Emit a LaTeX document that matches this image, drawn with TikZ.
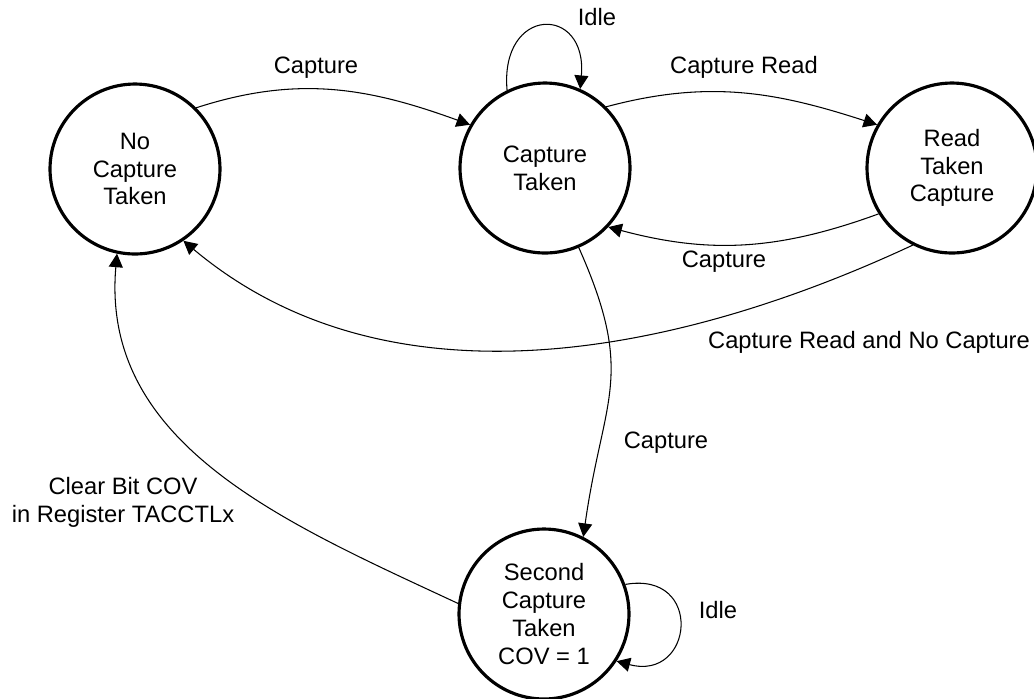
\documentclass[tikz,border=0pt]{standalone}
\usepackage{fontspec}
\setmainfont{Liberation Sans}
\usetikzlibrary{arrows.meta, positioning}

\begin{document}
\begin{tikzpicture}[
  x=0.02cm, y=-0.02cm,
  font=\fontsize{13.5}{15.8}\selectfont,
  state/.style={circle, draw, line width=1.8pt, minimum size=3.4cm, inner sep=0pt, align=center},
  lbl/.style={align=center},
  tr/.style={line width=0.6pt, -{Triangle[length=0.27cm, width=0.28cm]}}
]
\useasboundingbox (0,0) rectangle (1034,698);

\node[state] (nct) at (135,169) {No\\Capture\\Taken};
\node[state] (ct) at (545,168) {Capture\\Taken};
\node[state] (rtc) at (952,168) {Read\\Taken\\Capture};
\node[state] (sct) at (544,614) {Second\\Capture\\Taken\\COV = 1};

\node[lbl] (capA) at (316,68) {Capture};
\node[lbl] (idleA) at (597,17) {Idle};
\node[lbl] (capRead) at (744,67) {Capture Read};
\node[lbl] (capB) at (724,262) {Capture};
\node[lbl] (capReadNo) at (869,342) {Capture Read and No Capture};
\node[lbl] (capC) at (666,443) {Capture};
\node[lbl] (clearCov) at (123,502) {Clear Bit COV\\in Register TACCTLx};
\node[lbl] (idleB) at (718,610) {Idle};

\draw[tr] (nct.45) to[out=18, in=160] (ct.150);
\draw[tr] (ct.116) .. controls +(95:1.7cm) and +(85:1.7cm) .. (ct.66);
\draw[tr] (ct.45) to[out=15, in=162] (rtc.150);
\draw[tr] (rtc.212) to[out=200, in=-15] (ct.-43);
\draw[tr] (rtc.243) to[out=205, in=-40, looseness=0.93] (nct.-56);
\draw[tr] (ct.-67) to[out=-66, in=82, looseness=1.25] (sct.63);
\draw[tr] (sct.173) to[out=155, in=-95] (nct.-102);
\draw[tr] (sct.20) .. controls +(10:1.6cm) and +(-15:1.6cm) .. (sct.-33);
\end{tikzpicture}
\end{document}
